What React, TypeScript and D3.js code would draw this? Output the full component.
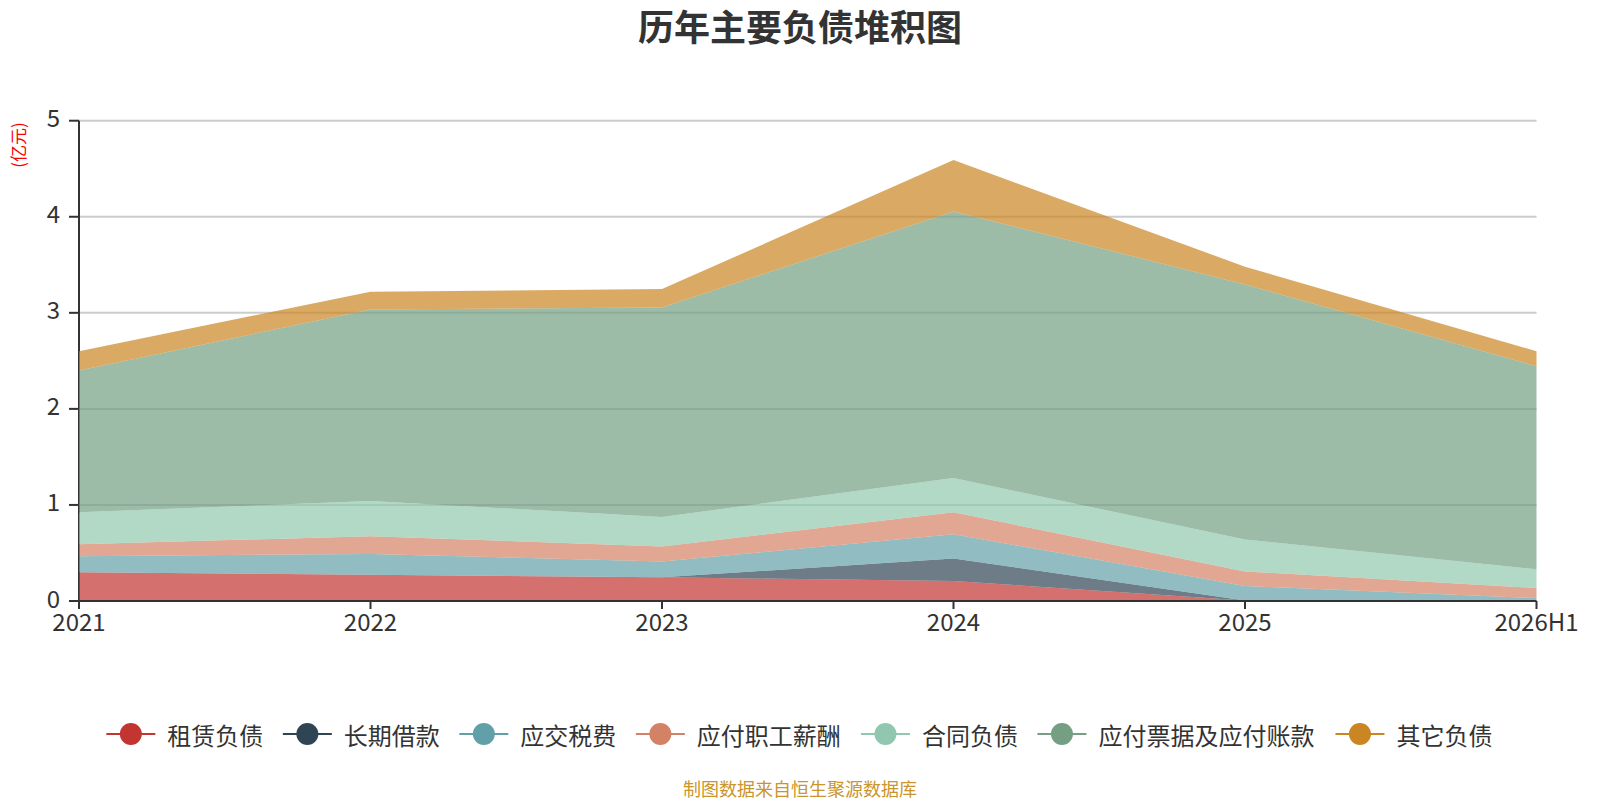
import React from "react";
import * as d3 from "d3";

const categories = ["2021", "2022", "2023", "2024", "2025", "2026H1"];
const seriesNames = ["租赁负债", "长期借款", "应交税费", "应付职工薪酬", "合同负债", "应付票据及应付账款", "其它负债"];
const zuLin = [0.3, 0.273, 0.246, 0.208, 0.006, 0];
const changQi = [0, 0, 0, 0.235, 0, 0];
const yingJiao = [0.167, 0.217, 0.164, 0.252, 0.15, 0.03];
const zhiGong = [0.123, 0.185, 0.157, 0.229, 0.152, 0.105];
const heTong = [0.334, 0.365, 0.308, 0.356, 0.332, 0.195];
const yingFu = [1.476, 1.995, 2.181, 2.776, 2.656, 2.113];
const qiTa = [0.2, 0.185, 0.191, 0.534, 0.184, 0.157];
const seriesValues = [zuLin, changQi, yingJiao, zhiGong, heTong, yingFu, qiTa];
const colors = ["#c23531", "#2f4554", "#61a0a8", "#d48265", "#91c7ae", "#749f83", "#ca8622"];
const yTicks = [0, 1, 2, 3, 4, 5];

const FONT = '"Noto Sans CJK SC", "Noto Sans", sans-serif';

export default function App() {
  const W = 1600, H = 800;
  const left = 79, right = 1536.5, top = 120.7, bottom = 601;
  const x = d3.scalePoint<string>().domain(categories).range([left, right]);
  const y = d3.scaleLinear().domain([0, 5]).range([bottom, top]);

  const rows = categories.map((c, i) => {
    const r: any = { cat: c };
    seriesNames.forEach((n, k) => (r[n] = seriesValues[k][i]));
    return r;
  });
  const stacked = d3.stack<any>().keys(seriesNames)(rows);
  const area = d3
    .area<any>()
    .x((d) => x(d.data.cat) as number)
    .y0((d) => y(d[0]))
    .y1((d) => y(d[1]));

  // legend layout
  const charW = 24.3;
  const lineW = 49, textOff = 61, gap = 18.3;
  const widths = seriesNames.map((n) => textOff + n.length * charW);
  const total = widths.reduce((a, b) => a + b, 0) + gap * (seriesNames.length - 1);
  let cursor = 800 - total / 2;
  const legendItems = seriesNames.map((n, i) => {
    const xs = cursor;
    cursor += widths[i] + gap;
    return { n, xs, color: colors[i] };
  });
  const legY = 734;

  return (
    <svg width={W} height={H} style={{ position: "absolute", left: 0, top: 0, background: "#fff" }} fontFamily={FONT}>
      <text x={800} y={25} textAnchor="middle" dominantBaseline="central" fontSize={36} fontWeight="bold" fill="#333">
        历年主要负债堆积图
      </text>
      <text
        transform={`translate(17,145) rotate(-90)`}
        textAnchor="middle"
        dominantBaseline="central"
        fontSize={17}
        fill="#ff0000"
      >
        (亿元)
      </text>
      {/* grid */}
      {yTicks.filter((t) => t > 0).map((t) => (
        <line key={t} x1={left} x2={right} y1={y(t)} y2={y(t)} stroke="#ccc" strokeWidth={2} />
      ))}
      {/* axes */}
      <line x1={left} x2={left} y1={top} y2={bottom} stroke="#333" strokeWidth={2} />
      {yTicks.map((t) => (
        <g key={t}>
          <line x1={left - 10} x2={left} y1={y(t)} y2={y(t)} stroke="#333" strokeWidth={2} />
          <text x={60} y={y(t) - 4} textAnchor="end" dominantBaseline="central" fontSize={24} fill="#333">
            {t}
          </text>
        </g>
      ))}
      {/* areas */}
      {stacked.map((s, i) => (
        <path key={s.key} d={area(s) as string} fill={colors[i]} fillOpacity={0.7} stroke="none" />
      ))}
      <line x1={left} x2={right} y1={bottom} y2={bottom} stroke="#333" strokeWidth={2} />
      {categories.map((c) => (
        <g key={c}>
          <line x1={x(c)} x2={x(c)} y1={bottom} y2={bottom + 8} stroke="#333" strokeWidth={2} />
          <text x={x(c)} y={631} textAnchor="middle" fontSize={24} fill="#333">
            {c}
          </text>
        </g>
      ))}
      {/* legend */}
      {legendItems.map((it) => (
        <g key={it.n}>
          <line x1={it.xs} x2={it.xs + lineW} y1={legY} y2={legY} stroke={it.color} strokeWidth={2} />
          <circle cx={it.xs + lineW / 2} cy={legY} r={11} fill={it.color} />
          <text x={it.xs + textOff} y={legY} dominantBaseline="central" fontSize={24} fill="#333">
            {it.n}
          </text>
        </g>
      ))}
      <text x={800} y={788} textAnchor="middle" dominantBaseline="central" fontSize={18} fill="#c9952c">
        制图数据来自恒生聚源数据库
      </text>
    </svg>
  );
}
